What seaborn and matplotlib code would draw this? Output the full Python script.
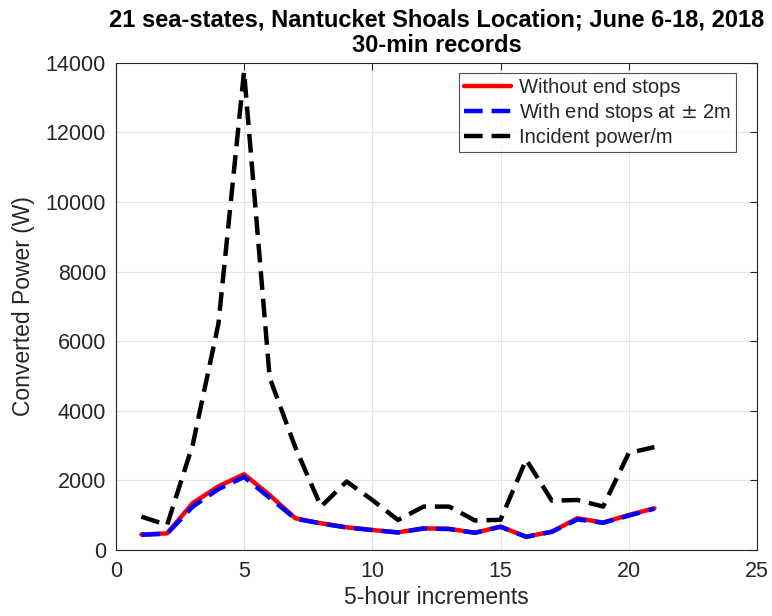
import matplotlib
matplotlib.use("Agg")
import matplotlib.pyplot as plt
import seaborn as sns
import pandas as pd

x = list(range(1, 22))
without_stops = [450, 480, 1350, 1830, 2180, 1580, 915, 770, 655, 577, 510, 625, 610, 500, 673, 385, 530, 915, 790, 1010, 1200]
with_stops = [440, 470, 1250, 1750, 2100, 1500, 900, 765, 650, 575, 505, 620, 605, 495, 670, 380, 525, 880, 785, 990, 1190]
incident = [960, 720, 3030, 6500, 13750, 4950, 2950, 1250, 1970, 1440, 865, 1250, 1250, 850, 870, 2600, 1420, 1440, 1250, 2790, 2960]
labels = ["Without end stops", "With end stops at $\\pm$ 2m", "Incident power/m"]

sns.set_theme(style="white")
plt.rcParams['font.family'] = ['Liberation Sans', 'DejaVu Sans']
plt.rcParams['mathtext.fontset'] = 'dejavusans'

fig = plt.figure(figsize=(7.72, 6.16), dpi=100)
ax = fig.add_axes([0.150, 0.107, 0.8306, 0.791])

df = pd.DataFrame({"x": x, "a": without_stops, "b": with_stops, "c": incident})
sns.lineplot(data=df, x="x", y="a", ax=ax, color="#ff0000", lw=3.2, label=labels[0])
sns.lineplot(data=df, x="x", y="b", ax=ax, color="#0000ff", lw=3.2, label=labels[1])
ax.lines[-1].set_dashes([4.2, 2.0])
sns.lineplot(data=df, x="x", y="c", ax=ax, color="black", lw=3.2, label=labels[2])
ax.lines[-1].set_dashes([4.2, 2.0])

ax.set_xlim(0, 25)
ax.set_ylim(0, 14000)
ax.set_xticks([0, 5, 10, 15, 20, 25])
ax.set_yticks(range(0, 14001, 2000))
ax.grid(True, color="#e3e3e3", lw=0.8)
ax.tick_params(direction="in", top=True, right=True, labelsize=15.5, colors="#262626", length=5, width=0.8)
ax.tick_params(axis="x", pad=8)
ax.tick_params(axis="y", pad=7)
for s in ax.spines.values():
    s.set_color("#262626")
    s.set_linewidth(0.8)
ax.set_xlabel("5-hour increments", fontsize=16.5, color="#262626", labelpad=3)
ax.set_ylabel("Converted Power (W)", fontsize=16.5, color="#262626", labelpad=8)
ax.set_title("21 sea-states, Nantucket Shoals Location; June 6-18, 2018\n30-min records",
             fontsize=17, fontweight="bold", linespacing=1.12, pad=8, color="black")

leg = ax.legend(loc="upper right", bbox_to_anchor=(0.967, 0.979), fontsize=14.5, frameon=True,
                fancybox=False, edgecolor="#262626", handlelength=2.3, borderpad=0.25,
                labelspacing=0.2, handletextpad=0.4, borderaxespad=0.0)
leg.get_frame().set_linewidth(0.8)

fig.savefig("out.png", dpi=100)
